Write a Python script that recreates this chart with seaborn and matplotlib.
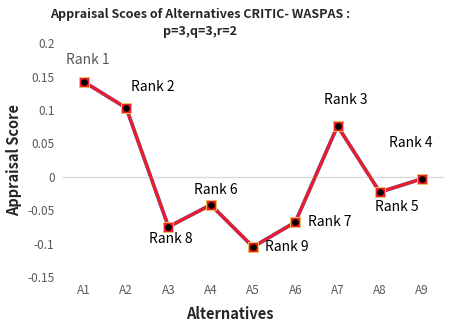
import numpy as np
import pandas as pd
import seaborn as sns
import matplotlib.pyplot as plt

alternatives = ['A1', 'A2', 'A3', 'A4', 'A5', 'A6', 'A7', 'A8', 'A9']
scores = [0.142, 0.103, -0.075, -0.042, -0.105, -0.068, 0.076, -0.023, -0.003]
ranks = ['Rank 1', 'Rank 2', 'Rank 8', 'Rank 6', 'Rank 9', 'Rank 7', 'Rank 3', 'Rank 5', 'Rank 4']
yticks = [-0.15, -0.1, -0.05, 0, 0.05, 0.1, 0.15, 0.2]
ytick_labels = ['-0.15', '-0.1', '-0.05', '0', '0.05', '0.1', '0.15', '0.2']

df = pd.DataFrame({'Alternative': alternatives, 'Score': scores})

sns.set_style('white')
plt.rcParams['font.family'] = ['Noto Sans CJK SC', 'DejaVu Sans']

fig = plt.figure(figsize=(4.49, 3.27), dpi=100)
ax = fig.add_axes([0.14, 0.153, 0.847, 0.715])

# line with a faint blue edge under the red
sns.lineplot(data=df, x='Alternative', y='Score', ax=ax, color='#5060c0', linewidth=2.7, sort=False, zorder=2)
sns.lineplot(data=df, x='Alternative', y='Score', ax=ax, color='#ee1c25', linewidth=2.2, sort=False,
             marker='s', markersize=7, markerfacecolor='#ee1c25', markeredgecolor='#f0c060',
             markeredgewidth=0.7, zorder=3)
ax.scatter(range(len(scores)), scores, s=14, color='black', zorder=4)

# rank labels (offsets in points)
offsets = [(3, 16), (19, 15), (1.5, -9), (4, 11), (24, 0), (25, 0), (6, 19), (12, -11), (-8, 26)]
for i, (s, r, off) in enumerate(zip(scores, ranks, offsets)):
    ax.annotate(r, (i, s), xytext=off, textcoords='offset points', ha='center', va='center',
                fontsize=10, color='#595959' if r == 'Rank 1' else 'black')

ax.set_ylim(-0.15, 0.2)
ax.set_xlim(-0.5, 8.5)
ax.set_yticks(yticks)
ax.set_yticklabels(ytick_labels)

for side in ['top', 'right', 'left']:
    ax.spines[side].set_visible(False)
ax.spines['bottom'].set_position(('data', 0))
ax.spines['bottom'].set_color('#d9d9d9')
ax.spines['bottom'].set_linewidth(1)
ax.set_xticks(np.arange(-0.5, 9, 1), minor=True)
ax.tick_params(axis='x', which='minor', length=4, color='#d9d9d9', width=1, direction='out')
ax.tick_params(axis='x', which='major', length=0, pad=77, labelsize=8.5, labelcolor='#595959')
ax.tick_params(axis='y', length=0, labelsize=8.5, labelcolor='#595959', pad=6)

ax.set_xlabel('Alternatives', fontsize=10.5, fontweight='bold')
ax.set_ylabel('Appraisal Score', fontsize=10.5, fontweight='bold', labelpad=4)
ax.xaxis.set_label_coords(0.44, -0.125, transform=ax.transAxes)

fig.text(0.445, 0.955, 'Appraisal Scoes of Alternatives CRITIC- WASPAS :', ha='center', va='center',
         fontsize=9, fontweight='bold')
fig.text(0.445, 0.905, 'p=3,q=3,r=2', ha='center', va='center', fontsize=9, fontweight='bold')

fig.savefig('out.png', dpi=100)
